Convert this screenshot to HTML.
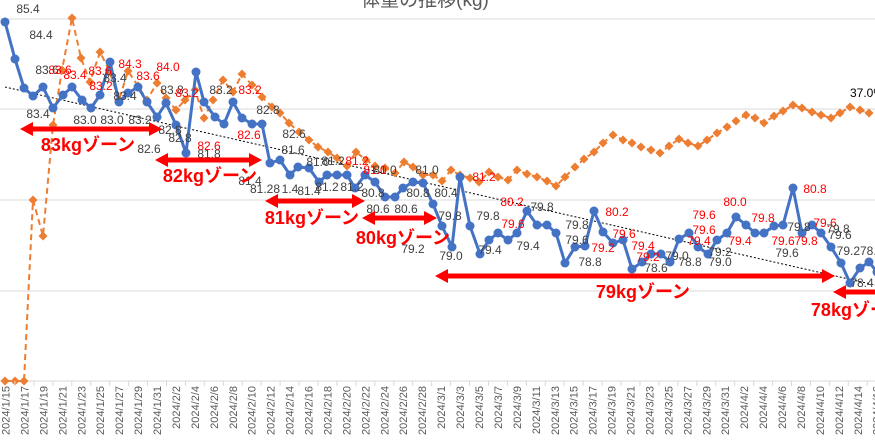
<!DOCTYPE html>
<html><head><meta charset="utf-8"><style>
html,body{margin:0;padding:0;background:#fff;}
svg{display:block;font-family:"Liberation Sans","Noto Sans CJK JP",sans-serif;}
.g{fill:#404040;font-size:12px;text-anchor:middle;}
.r{fill:#ff0000;font-size:12px;text-anchor:middle;}
.ax{fill:#595959;font-size:11px;text-anchor:end;}
.z{fill:#ff0000;font-size:18px;font-weight:bold;text-anchor:middle;}
</style></head><body>
<svg width="875" height="445" viewBox="0 0 875 445" xmlns="http://www.w3.org/2000/svg">
<text x="425" y="6" font-size="19" fill="#595959" text-anchor="middle">体重の推移(kg)</text>
<g stroke="#d9d9d9" stroke-width="1">
<line x1="0" y1="19" x2="875" y2="19"/><line x1="0" y1="109" x2="875" y2="109"/>
<line x1="0" y1="200" x2="875" y2="200"/><line x1="0" y1="291" x2="875" y2="291"/>
<line x1="0" y1="381" x2="875" y2="381"/>
</g>
<line x1="5" y1="87" x2="875" y2="285" stroke="#000" stroke-width="1" stroke-dasharray="2,2"/>
<g id="orange">
<polyline id="opl" fill="none" stroke="#ED7D31" stroke-width="2" stroke-dasharray="6,4" points="5,381 15,381 24,381 33,200 43,236 53,125 62,70 72,18 81,58 90,82 100,52 109,70 119,100 128,71 138,86 147,100 157,83 166,98 176,110 185,100 195,90 204,118 213,100 223,80 233,92 242,74 252,85 262,97 272,107 280,113 289,123 299,132 309,140 318,147 328,152 337,158 347,166 356,152 366,160 375,166 385,168 395,173 404,162 413,167 423,175 433,175 442,181 451,170 460,175 470,178 479,182 489,172 498,177 508,180 517,170 527,174 537,177 547,181 556,186 565,177 575,167 584,159 594,152 603,143 613,135 623,140 632,143 641,147 651,150 660,153 669,146 679,139 688,143 698,146 707,140 717,133 727,127 736,121 746,115 755,118 764,123 774,116 783,111 793,105 802,108 812,112 821,115 831,118 840,113 850,107 860,110 869,113"/>
</g>
<g fill="#ED7D31" id="od"></g>
<polyline id="bl" fill="none" stroke="#4472C4" stroke-width="3" stroke-linejoin="round" points="5,22 15,59 24,88 33,96 43,87 53,108 63,95 72,87 82,100 91,108 100,95 110,62 119,102 128,93 138,87 147,102 157,117 166,103 176,125 186,153 196,72 204,102 215,117 224,124 233,102 242,118 252,124 262,124 270,163 280,160 290,175 298,167 309,168 319,182 327,175 337,175 347,175 355,188 365,175 375,182 385,197 395,197 403,188 413,182 423,183 433,204 442,226 452,247 460,177 470,226 480,254 489,240 498,233 508,240 517,233 527,211 537,225 547,225 556,233 565,263 575,247 585,246 594,211 603,232 613,243 623,240 632,269 642,262 651,254 661,254 670,262 679,239 689,233 698,247 708,254 717,240 727,233 736,217 746,225 755,233 764,233 774,226 783,225 793,188 802,233 812,225 821,233 831,247 841,263 850,283 860,268 869,262 877,272"/>
<g fill="#4472C4" id="bd"></g>
<g id="lbl">
<text class="g" x="28" y="13">85.4</text><text class="g" x="41" y="39">84.4</text>
<text class="g" x="47" y="74">83.6</text><text class="r" x="60" y="74">83.6</text>
<text class="g" x="38" y="118">83.4</text><text class="g" x="85" y="124">83.0</text>
<text class="g" x="112" y="124">83.0</text><text class="g" x="140" y="124">83.2</text>
<text class="r" x="75" y="79">83.4</text><text class="r" x="100" y="75">83.6</text>
<text class="r" x="101" y="90">83.2</text><text class="g" x="115" y="82">83.4</text>
<text class="g" x="125" y="100">83.4</text><text class="r" x="130" y="68">84.3</text>
<text class="r" x="148" y="80">83.6</text><text class="r" x="168" y="71">84.0</text>
<text class="g" x="172" y="94">83.8</text><text class="r" x="187" y="97">83.2</text>
<text class="g" x="221" y="94">83.2</text><text class="r" x="250" y="94">83.2</text>
<text class="g" x="170" y="134">82.8</text><text class="g" x="180" y="142">82.8</text>
<text class="g" x="149" y="153">82.6</text><text class="r" x="209" y="150">82.6</text>
<text class="g" x="209" y="158">81.8</text><text class="g" x="268" y="114">82.8</text>
<text class="r" x="249" y="139">82.6</text><text class="g" x="294" y="138">82.6</text>
<text class="g" x="293" y="154">81.6</text><text class="g" x="250" y="185">81.4</text>
<text class="g" x="265" y="193">81.28</text><text class="g" x="290" y="193">1.4</text>
<text class="g" x="309" y="195">81.4</text><text class="g" x="318" y="166">81.0</text>
<text class="g" x="333" y="165">81.2</text><text class="r" x="357" y="165">81.2</text>
<text class="g" x="327" y="191">81.2</text><text class="g" x="352" y="191">81.2</text>
<text class="g" x="373" y="197">80.8</text><text class="g" x="378" y="213">80.6</text>
<text class="g" x="406" y="213">80.6</text><text class="g" x="385" y="174">81.0</text>
<text class="r" x="375" y="174">81.0</text><text class="g" x="427" y="174">81.0</text>
<text class="g" x="418" y="197">80.8</text><text class="g" x="446" y="197">80.4</text>
<text class="g" x="450" y="220">79.8</text><text class="g" x="413" y="253">79.2</text>
<text class="g" x="451" y="260">79.0</text><text class="r" x="484" y="181">81.2</text>
<text class="g" x="488" y="220">79.8</text><text class="r" x="512" y="206">80.2</text>
<text class="r" x="513" y="228">79.6</text><text class="g" x="490" y="254">79.4</text>
<text class="g" x="528" y="250">79.4</text><text class="g" x="542" y="211">79.8</text>
<text class="g" x="577" y="244">79.6</text><text class="g" x="577" y="229">79.8</text>
<text class="g" x="590" y="266">78.8</text><text class="r" x="617" y="216">80.2</text>
<text class="r" x="603" y="252">79.2</text><text class="r" x="624" y="238">79.6</text>
<text class="r" x="643" y="250">79.4</text><text class="r" x="648" y="261">79.2</text>
<text class="g" x="656" y="272">78.6</text><text class="g" x="677" y="260">79.0</text>
<text class="g" x="690" y="266">78.8</text><text class="g" x="720" y="266">79.0</text>
<text class="g" x="720" y="256">79.2</text><text class="r" x="704" y="219">79.6</text>
<text class="r" x="704" y="234">79.6</text><text class="r" x="699" y="245">79.4</text>
<text class="r" x="735" y="206">80.0</text><text class="r" x="740" y="245">79.4</text>
<text class="r" x="763" y="222">79.8</text><text class="r" x="783" y="245">79.6</text>
<text class="g" x="787" y="257">79.6</text><text class="g" x="799" y="231">79.8</text>
<text class="r" x="806" y="245">79.8</text><text class="r" x="815" y="193">80.8</text>
<text class="r" x="825" y="227">79.6</text><text class="g" x="838" y="233">79.8</text>
<text class="g" x="840" y="239">79.6</text><text class="g" x="860" y="255">79.278.4</text>
<text class="g" x="862" y="287">78.4</text>
<text x="850" y="97" font-size="12" fill="#000">37.0%</text>
</g>
<g fill="#ff0000" stroke="#ff0000" stroke-width="5">
<line x1="30" y1="129" x2="152" y2="129"/><line x1="165" y1="160" x2="252" y2="160"/>
<line x1="275" y1="201" x2="355" y2="201"/><line x1="372" y1="218" x2="427" y2="218"/>
<line x1="445" y1="276" x2="825" y2="276"/><line x1="843" y1="292" x2="880" y2="292"/>
</g>
<g fill="#ff0000">
<polygon points="20,129 33,122 33,136"/><polygon points="162,129 149,122 149,136"/>
<polygon points="155,160 168,153 168,167"/><polygon points="262,160 249,153 249,167"/>
<polygon points="265,201 278,194 278,208"/><polygon points="365,201 352,194 352,208"/>
<polygon points="362,218 375,211 375,225"/><polygon points="437,218 424,211 424,225"/>
<polygon points="435,276 448,269 448,283"/><polygon points="835,276 822,269 822,283"/>
<polygon points="833,292 846,285 846,299"/>
</g>
<text class="z" x="88" y="151">83kgゾーン</text>
<text class="z" x="210" y="182">82kgゾーン</text>
<text class="z" x="312" y="224">81kgゾーン</text>
<text class="z" x="403" y="244">80kgゾーン</text>
<text class="z" x="643" y="298">79kgゾーン</text>
<text class="z" x="858" y="316">78kgゾーン</text>
<g id="ticks" stroke="#d9d9d9"></g>
<g id="axl"></g>
</svg>
<script>
(function(){
var ns="http://www.w3.org/2000/svg";
function pts(id){return document.getElementById(id).getAttribute("points").trim().split(/\s+/).map(function(p){return p.split(",").map(Number);});}
var od=document.getElementById("od");
pts("opl").forEach(function(a){var s=document.createElementNS(ns,"polygon");var r=4.5;
s.setAttribute("points",(a[0])+","+(a[1]-r)+" "+(a[0]+r)+","+a[1]+" "+a[0]+","+(a[1]+r)+" "+(a[0]-r)+","+a[1]);od.appendChild(s);});
var bd=document.getElementById("bd");
pts("bl").forEach(function(a){var c=document.createElementNS(ns,"circle");c.setAttribute("cx",a[0]);c.setAttribute("cy",a[1]);c.setAttribute("r",4.5);bd.appendChild(c);});
var axl=document.getElementById("axl"),tk=document.getElementById("ticks");
var d=new Date(2024,0,15);
for(var i=0;i<=92;i++){
 var x=5.5+9.47*i;
 if(i%2==0){
  var t=document.createElementNS(ns,"text");t.setAttribute("class","ax");
  t.setAttribute("transform","translate("+(x+4)+",386) rotate(-90)");
  t.textContent="2024/"+(d.getMonth()+1)+"/"+d.getDate();axl.appendChild(t);
 }else{
  var l=document.createElementNS(ns,"line");l.setAttribute("x1",x);l.setAttribute("x2",x);l.setAttribute("y1",381);l.setAttribute("y2",386);tk.appendChild(l);
 }
 d.setDate(d.getDate()+1);
}
})();
</script>
</body></html>
